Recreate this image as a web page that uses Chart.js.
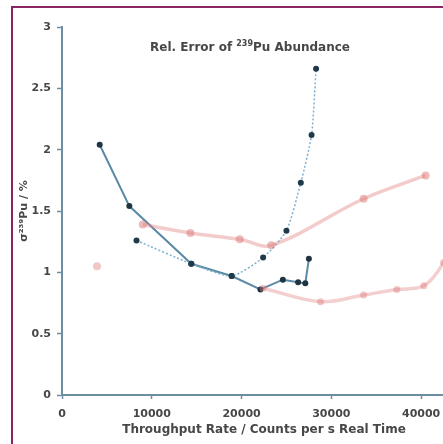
<!DOCTYPE html>
<html>
<head>
<meta charset="utf-8">
<script src="https://cdn.jsdelivr.net/npm/chart.js@4"></script>
<style>
  html, body { margin: 0; padding: 0; background: #fff; }
  body { width: 443px; height: 444px; overflow: hidden; position: relative; }
  #frame { position: absolute; left: 11px; top: 6px; width: 600px; height: 600px;
           border-left: 2px solid #8b2462; border-top: 2px solid #8b2462; }
  #wrap { position: absolute; left: 12px; top: 8px; width: 476px; height: 436px; }
</style>
</head>
<body>
<div id="frame"></div>
<div id="wrap"><canvas id="chart"></canvas></div>
<script>
// solid dark series
const rateA = [4200, 7500, 14400, 18900, 22100, 24600, 26300, 27100, 27500];
const errA  = [2.04, 1.54, 1.07, 0.97, 0.86, 0.94, 0.92, 0.91, 1.11];

// dotted blue series
const rateB = [8300, 14400, 18900, 22400, 25000, 26600, 27800, 28300];
const errB  = [1.26, 1.07, 0.97, 1.12, 1.34, 1.73, 2.12, 2.66];

// faint red series (upper)
const rateC = [9000, 14300, 19800, 23300, 33600, 40500];
const errC  = [1.39, 1.32, 1.27, 1.22, 1.60, 1.79];

// faint red series (lower)
const rateD = [22400, 28800, 33600, 37300, 40300, 42500, 43300];
const errD  = [0.87, 0.76, 0.815, 0.86, 0.89, 1.08, 1.26];

// single faint red point
const rateE = [3900];
const errE  = [1.05];

const xTicks = [0, 10000, 20000, 30000, 40000];
const yTicks = [0, 0.5, 1, 1.5, 2, 2.5, 3];

const axisColor = '#6d8da2';
const textColor = '#474747';
const fam = '"DejaVu Sans"';

function pts(xs, ys){
    let out = [];
    for(let i = 0; i < xs.length; i++)
        out.push({x: xs[i], y: ys[i]});
    return out;
}

const titlePlugin = {
    id: 'innerTitle',
    afterDraw(chart){
        const ctx = chart.ctx;
        const parts = [
            {t: 'Rel. Error of ', f: 'bold 12px ' + fam, dy: 0},
            {t: '239', f: 'bold 8px ' + fam, dy: -4},
            {t: 'Pu Abundance', f: 'bold 12px ' + fam, dy: 0}
        ];
        let w = 0;
        parts.forEach(p => { ctx.font = p.f; w += ctx.measureText(p.t).width; });
        let x = 238 - w / 2;
        const y = 40;
        ctx.save();
        ctx.fillStyle = textColor;
        ctx.textBaseline = 'middle';
        parts.forEach(p => {
            ctx.font = p.f;
            ctx.fillText(p.t, x, y + p.dy);
            x += ctx.measureText(p.t).width;
        });
        ctx.restore();
    }
};

const data = {
    datasets: [
        {
            label: 'upper red',
            data: pts(rateC, errC),
            borderColor: 'rgba(226,130,130,0.42)',
            backgroundColor: 'rgba(222,120,120,0.5)',
            borderWidth: 3.5,
            pointRadius: 4,
            pointBorderWidth: 0,
            tension: 0.35
        },
        {
            label: 'lower red',
            data: pts(rateD, errD),
            borderColor: 'rgba(226,130,130,0.38)',
            backgroundColor: 'rgba(222,120,120,0.42)',
            borderWidth: 3.5,
            pointRadius: 3.5,
            pointBorderWidth: 0,
            tension: 0.35
        },
        {
            label: 'single red',
            data: pts(rateE, errE),
            showLine: false,
            backgroundColor: 'rgba(222,120,120,0.42)',
            pointRadius: 4,
            pointBorderWidth: 0
        },
        {
            label: 'dotted',
            data: pts(rateB, errB),
            borderColor: '#7fb1d0',
            backgroundColor: '#1f3a4a',
            borderWidth: 1.5,
            borderDash: [2, 2],
            pointRadius: 3,
            pointBorderWidth: 0,
            tension: 0.2
        },
        {
            label: 'solid',
            data: pts(rateA, errA),
            borderColor: '#5b8aa6',
            backgroundColor: '#1f3442',
            borderWidth: 2,
            pointRadius: 3,
            pointBorderWidth: 0,
            tension: 0
        }
    ]
};

const config = {
    type: 'scatter',
    data: data,
    plugins: [titlePlugin],
    options: {
        responsive: true,
        maintainAspectRatio: false,
        animation: false,
        showLine: true,
        layout: { padding: { top: 19, right: 22, left: 0, bottom: 0 } },
        plugins: {
            legend: { display: false },
            tooltip: { enabled: false }
        },
        scales: {
            x: {
                type: 'linear',
                min: 0,
                max: 45000,
                afterBuildTicks: s => { s.ticks = xTicks.map(v => ({value: v})); },
                afterFit: s => { s.height = 49; },
                border: { color: axisColor, width: 2 },
                grid: { drawOnChartArea: false, color: axisColor, tickLength: 4, tickWidth: 1.5 },
                ticks: {
                    color: textColor,
                    padding: 9,
                    maxRotation: 0,
                    font: { family: 'DejaVu Sans', size: 11, weight: 'bold' },
                    callback: v => String(v)
                },
                title: {
                    display: true,
                    text: 'Throughput Rate / Counts per s Real Time',
                    color: textColor,
                    padding: { top: 2, bottom: 7 },
                    font: { family: 'DejaVu Sans', size: 12, weight: 'bold' }
                }
            },
            y: {
                type: 'linear',
                min: 0,
                max: 3,
                afterBuildTicks: s => { s.ticks = yTicks.map(v => ({value: v})); },
                afterFit: s => { s.width = 50; },
                border: { color: axisColor, width: 2 },
                grid: { drawOnChartArea: false, color: axisColor, tickLength: 5, tickWidth: 1.5 },
                ticks: {
                    color: textColor,
                    padding: 6,
                    font: { family: 'DejaVu Sans', size: 11, weight: 'bold' },
                    callback: v => String(v)
                },
                title: {
                    display: true,
                    text: 'σ²³⁹Pu / %',
                    color: textColor,
                    padding: { top: 6, bottom: 0 },
                    font: { family: 'DejaVu Sans', size: 11, weight: 'bold' }
                }
            }
        }
    }
};

let ctx = document.getElementById('chart').getContext('2d');
new Chart(ctx, config);
</script>
</body>
</html>
